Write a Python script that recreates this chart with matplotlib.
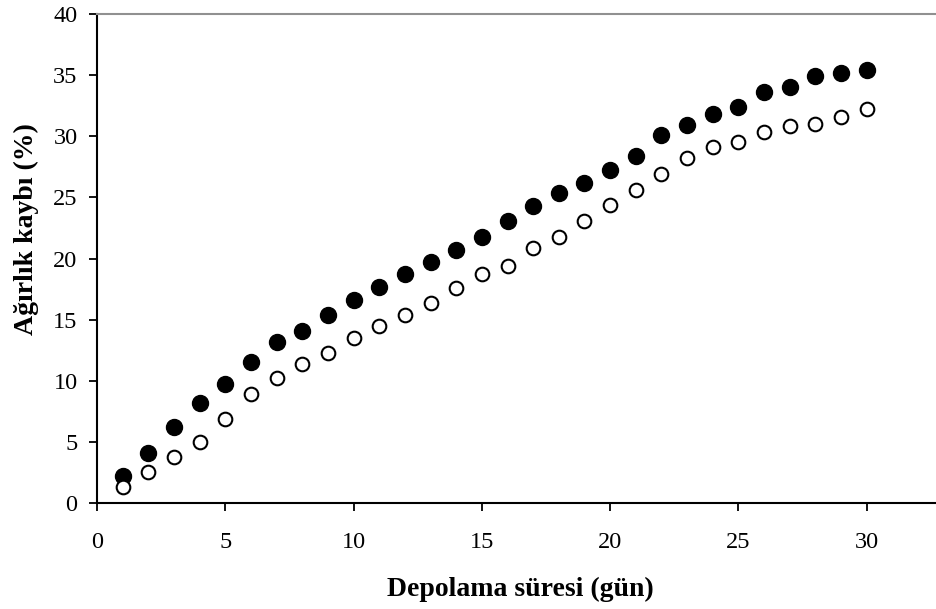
import matplotlib
matplotlib.use('Agg')
import matplotlib.pyplot as plt

# storage days
days = list(range(1, 31))

# weight loss (%), filled markers
loss_filled = [2.2, 4.1, 6.2, 8.2, 9.7, 11.5, 13.2, 14.1, 15.4, 16.6,
               17.7, 18.7, 19.7, 20.7, 21.8, 23.1, 24.3, 25.4, 26.2, 27.2,
               28.4, 30.1, 30.9, 31.8, 32.4, 33.6, 34.05, 34.9, 35.2, 35.4]

# weight loss (%), open markers
loss_open = [1.3, 2.5, 3.8, 5.0, 6.9, 8.9, 10.2, 11.35, 12.3, 13.5,
             14.45, 15.4, 16.4, 17.6, 18.7, 19.4, 20.9, 21.8, 23.1, 24.4,
             25.6, 26.9, 28.2, 29.15, 29.5, 30.35, 30.8, 30.97, 31.6, 32.25]

xticks = [0, 5, 10, 15, 20, 25, 30]
yticks = [0, 5, 10, 15, 20, 25, 30, 35, 40]

plt.rcParams['font.family'] = ['Liberation Serif', 'DejaVu Serif']

fig = plt.figure(figsize=(9.36, 6.09), dpi=100)
ax = fig.add_axes([0.1036, 0.174, 0.8964, 0.803])

ax.plot(days, loss_filled, 'o', color='black', markersize=11.5, linestyle='none')
ax.plot(days, loss_open, 'o', markerfacecolor='white', markeredgecolor='black',
        markeredgewidth=1.5, markersize=9.8, linestyle='none')

ax.set_xlim(0, 32.7)
ax.set_ylim(0, 40)
ax.set_xticks(xticks)
ax.set_yticks(yticks)
ax.tick_params(direction='out', length=6, width=1.3, labelsize=17.5, color='black')
ax.tick_params(axis='x', pad=14.5)
ax.tick_params(axis='y', pad=8)

ax.spines['right'].set_visible(False)
ax.spines['top'].set_color('#909090')
ax.spines['top'].set_linewidth(1.5)
ax.spines['left'].set_linewidth(1.5)
ax.spines['bottom'].set_linewidth(1.5)

ax.set_xlabel('Depolama süresi (gün)', fontsize=20, fontweight='bold')
ax.set_ylabel('Ağırlık kaybı (%)', fontsize=20, fontweight='bold')
ax.xaxis.set_label_coords(0.505, -0.151)
ax.yaxis.set_label_coords(-0.069, 0.56)

fig.savefig('out.png', dpi=100)
